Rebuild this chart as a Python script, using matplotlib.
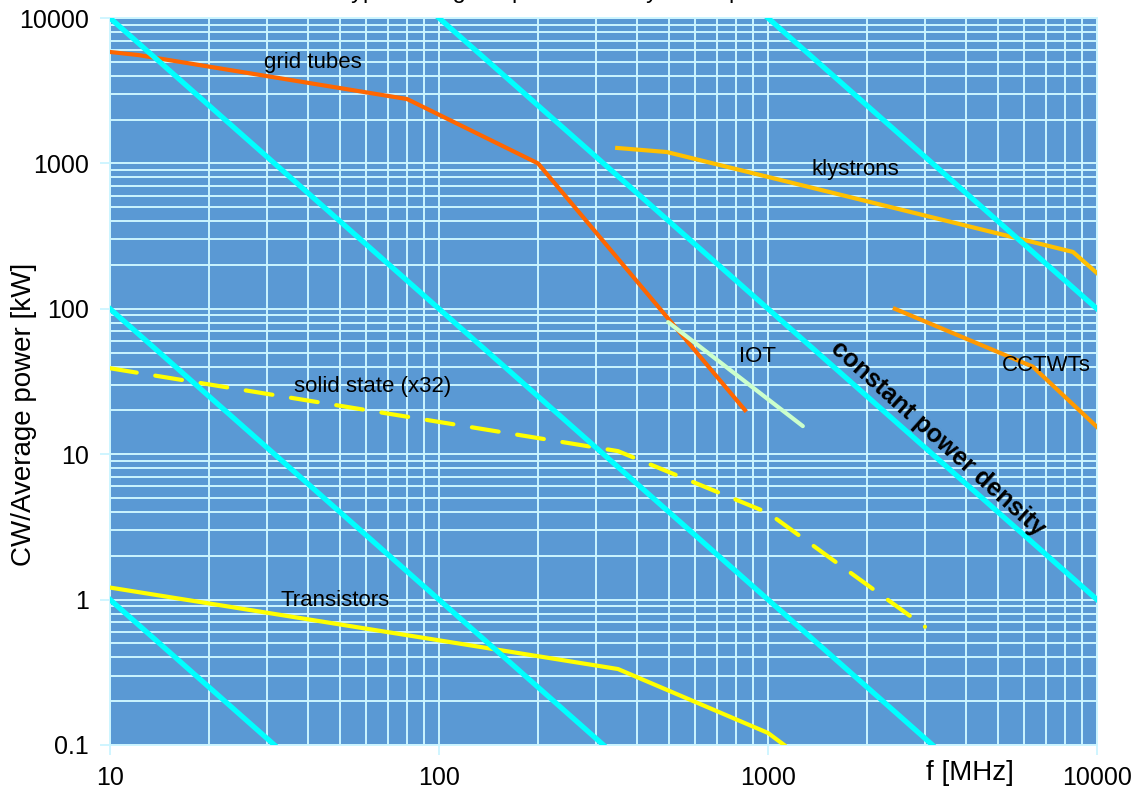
import matplotlib
matplotlib.use('Agg')
import matplotlib.pyplot as plt
from matplotlib.ticker import FixedLocator, LogLocator, NullFormatter

plt.rcParams['font.family'] = ['Liberation Sans', 'DejaVu Sans']

# Данные (f в МГц, мощность в кВт)
grid_f = [10, 12.2, 80, 200, 851]
grid_p = [5840, 5560, 2770, 1000, 20.1]

klys_f = [348, 493, 8450, 10000]
klys_p = [1277, 1197, 246, 176]

cctwt_f = [2430, 6380, 10000]
cctwt_p = [100, 40, 15.4]

iot_f = [497, 1276]
iot_p = [81, 15.6]

solid_f = [10, 350, 1000, 3000]
solid_p = [39, 10.5, 3.95, 0.65]

trans_f = [10, 350, 1000, 1120]
trans_p = [1.21, 0.333, 0.121, 0.1]

# линии постоянной плотности мощности (концы отрезков)
dens_f = [[10, 31.6], [10, 316], [10, 3162], [100, 10000], [1000, 10000]]
dens_p = [[1, 0.1], [100, 0.1], [10000, 0.1], [10000, 1], [10000, 100]]

x_ticks = [10, 100, 1000, 10000]
x_labels = ['10', '100', '1000', '10000']
y_ticks = [0.1, 1, 10, 100, 1000, 10000]
y_labels = ['0.1', '1', '10', '100', '1000', '10000']

bg = '#5A99D4'
grid_col = '#CCF5FF'

fig = plt.figure(figsize=(11.39, 7.89), dpi=100)
ax = fig.add_axes([110 / 1139, 44 / 789, 987 / 1139, 727 / 789])
ax.set_facecolor(bg)
ax.set_xscale('log')
ax.set_yscale('log')
ax.set_xlim(10, 10000)
ax.set_ylim(0.1, 10000)

ax.xaxis.set_major_locator(FixedLocator(x_ticks))
ax.yaxis.set_major_locator(FixedLocator(y_ticks))
ax.xaxis.set_minor_locator(LogLocator(base=10, subs=range(2, 10)))
ax.yaxis.set_minor_locator(LogLocator(base=10, subs=range(2, 10)))
ax.xaxis.set_minor_formatter(NullFormatter())
ax.yaxis.set_minor_formatter(NullFormatter())
ax.set_xticklabels(x_labels, fontsize=18)
ax.set_yticklabels(y_labels, fontsize=18)
ax.tick_params(which='major', length=7, width=1.3, color=grid_col, pad=8)
ax.tick_params(which='minor', length=0)
ax.grid(True, which='both', color=grid_col, lw=1.4)
ax.set_axisbelow(True)
for s in ax.spines.values():
    s.set_color(grid_col)
    s.set_linewidth(1.4)

# кривые приборов
ax.plot(grid_f, grid_p, color='#FF6600', lw=3, zorder=3)
ax.plot(klys_f, klys_p, color='#FFC000', lw=3, zorder=3)
ax.plot(cctwt_f, cctwt_p, color='#FF9900', lw=3, zorder=3)
ax.plot(iot_f, iot_p, color='#CCFFCC', lw=3, zorder=3, solid_capstyle='round')
ax.plot(solid_f, solid_p, color='#FFFF00', lw=3, zorder=3,
        dashes=(6.5, 4.5), dash_capstyle='round')
ax.plot(trans_f, trans_p, color='#FFFF00', lw=3, zorder=3)

for fx, py in zip(dens_f, dens_p):
    ax.plot(fx, py, color='#00FFFF', lw=3.8, zorder=4)

# подписи
lbl = dict(fontsize=16, ha='center', va='center', zorder=6)
ax.text(41.4, 4980, 'grid tubes', **lbl)
ax.text(1837, 914, 'klystrons', **lbl)
ax.text(927, 47.3, 'IOT', **lbl)
ax.text(7000, 40.5, 'CCTWTs', **lbl)
ax.text(63, 29, 'solid state (x32)', **lbl)
ax.text(48.3, 0.99, 'Transistors', **lbl)
ax.text(3290, 12.9, 'constant power density', fontsize=18, fontweight='bold',
        rotation=-42, rotation_mode='anchor', ha='center', va='center', zorder=6)

ax.set_ylabel('CW/Average power [kW]', fontsize=20, va='center')
ax.yaxis.set_label_coords(-0.087, 0.455)
ax.set_xlabel('f [MHz]', fontsize=20, va='center')
ax.xaxis.set_label_coords(0.871, -0.0385)

# заголовок обрезан сверху, видны только хвосты букв
fig.text(0.297, 1.002, 'Typical range of power density of RF power sources',
         fontsize=17, ha='left', va='baseline')

fig.savefig('out.png', dpi=100)
